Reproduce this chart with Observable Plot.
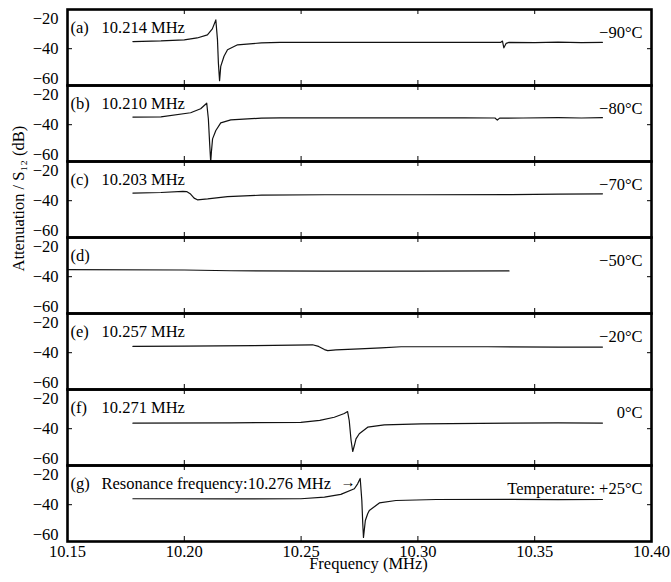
<!DOCTYPE html>
<html><head><meta charset="utf-8">
<script src="https://cdn.jsdelivr.net/npm/d3@7"></script>
<script src="https://cdn.jsdelivr.net/npm/@observablehq/plot@0.6"></script>
<style>body{margin:0;background:#fff;} svg text{font-family:'Liberation Serif','Times New Roman',serif;}</style>
</head><body><div id="chart"></div>
<script>
const panels = ["a","b","c","d","e","f","g"];
const resonanceLabels = ["10.214 MHz","10.210 MHz","10.203 MHz","","10.257 MHz","10.271 MHz","Resonance frequency:10.276 MHz"];
const arrowLabels = ["","","","","","","\u2192"];
const temperatureLabels = ["\u221290\u00b0C","\u221280\u00b0C","\u221270\u00b0C","\u221250\u00b0C","\u221220\u00b0C","0\u00b0C","Temperature: +25\u00b0C"];
const xTicks = [10.15,10.20,10.25,10.30,10.35,10.40];
const xInnerTicks = [10.20,10.25,10.30,10.35];
const yTicks = [-20,-40,-60];
const xLabel = "Frequency (MHz)";
const yLabel = "Attenuation / S\u2081\u2082 (dB)";

const freqA = [10.178,10.19,10.20,10.2055,10.2099,10.2120,10.2135,10.2142,10.2146,10.2151,10.2156,10.2170,10.2185,10.2228,10.233,10.241,10.27,10.30,10.3355,10.3362,10.3368,10.3378,10.339,10.35,10.36,10.37,10.379];
const dbA   = [-35.2,-34.8,-34.1,-32.8,-30.7,-26.7,-20.7,-33.9,-49.8,-61.5,-51.9,-45.1,-40.7,-37.4,-36.1,-35.8,-35.8,-35.8,-35.7,-34.9,-39.4,-36.4,-35.8,-35.9,-35.6,-35.9,-35.7];

const freqB = [10.178,10.19,10.2027,10.207,10.2096,10.2103,10.2109,10.2113,10.2116,10.2121,10.2135,10.2156,10.2199,10.233,10.241,10.28,10.32,10.3330,10.3340,10.3350,10.345,10.36,10.37,10.379];
const dbB   = [-34.9,-34.7,-32.0,-29.3,-25.6,-36.0,-54.0,-65,-58.3,-49.5,-43.9,-38.8,-36.8,-35.6,-35.4,-35.4,-35.4,-35.5,-36.9,-35.6,-35.5,-35.3,-35.5,-35.3];

const freqC = [10.178,10.19,10.1994,10.2010,10.2025,10.2042,10.2056,10.210,10.2185,10.233,10.26,10.30,10.34,10.36,10.379];
const dbC   = [-34.9,-34.5,-33.7,-33.9,-35.3,-38.3,-39.4,-38.8,-37.3,-36.3,-36.0,-36.0,-35.9,-35.6,-35.4];

const freqD = [10.15,10.20,10.22,10.26,10.30,10.339];
const dbD   = [-35.2,-35.5,-36.0,-36.3,-36.2,-36.1];

const freqE = [10.178,10.20,10.23,10.2549,10.2575,10.2600,10.2614,10.2649,10.275,10.2842,10.2928,10.33,10.36,10.379];
const dbE   = [-35.8,-35.6,-35.2,-34.7,-35.8,-37.9,-38.6,-38.1,-37.4,-36.8,-36.0,-36.0,-36.2,-36.2];

const freqF = [10.178,10.22,10.2499,10.258,10.2642,10.2685,10.2699,10.2706,10.2714,10.2721,10.2728,10.2735,10.2749,10.2785,10.2856,10.3014,10.34,10.36,10.379];
const dbF   = [-36.3,-36.1,-35.7,-34.4,-32.3,-29.8,-28.5,-34.5,-47.9,-55.3,-51.3,-46.8,-43.4,-39.0,-37.4,-36.8,-36.2,-36.1,-36.2];

const freqG = [10.178,10.22,10.2499,10.260,10.2670,10.2728,10.2742,10.2753,10.2760,10.2764,10.2767,10.2775,10.2785,10.2792,10.2835,10.2906,10.3078,10.34,10.36,10.379];
const dbG   = [-36.0,-36.1,-36.0,-34.9,-33.1,-29.3,-26.0,-22.4,-37.2,-52.8,-62.0,-50.6,-46.1,-43.9,-38.8,-37.2,-36.5,-36.4,-36.6,-36.5];

const freqs = [freqA,freqB,freqC,freqD,freqE,freqF,freqG];
const dbs = [dbA,dbB,dbC,dbD,dbE,dbF,dbG];

const rows = panels.flatMap((p,i) => freqs[i].map((f,j) => ({panel:p, f, db: dbs[i][j]})));
const labels = panels.map((p,i) => ({panel:p, tag:`(${p})`, res:resonanceLabels[i], arrow:arrowLabels[i], temp:temperatureLabels[i]}));
const FONT = "'Liberation Serif','Times New Roman',serif";

const chart = Plot.plot({
  width: 671, height: 582,
  marginTop: 9, marginBottom: 41, marginLeft: 67, marginRight: 20,
  style: `font-family: ${FONT}; font-size: 16.5px; background: #fff; color: #000;`,
  x: {domain: [10.15, 10.40]},
  y: {domain: [-64.7, -13.7]},
  fy: {domain: panels, padding: 0, axis: null},
  marks: [
    Plot.line(rows, {x: "f", y: "db", fy: "panel", stroke: "#111", strokeWidth: 1.2, clip: true}),
    Plot.axisY({ticks: yTicks, tickSize: 0, tickPadding: 9, label: null, fontSize: 16.5}),
    Plot.axisY({anchor: "left", ticks: [-40], tickSize: -5, text: null, label: null}),
    Plot.axisY({anchor: "right", ticks: [-40], tickSize: -5, text: null, label: null}),
    Plot.tickX(xInnerTicks, {x: d => d, insetBottom: 71, stroke: "#000", strokeWidth: 1}),
    Plot.tickX(xInnerTicks, {x: d => d, insetTop: 71, stroke: "#000", strokeWidth: 1}),
    Plot.axisX({anchor: "bottom", ticks: xTicks, tickSize: 0, tickPadding: 4, tickFormat: ".2f", label: null, fontSize: 16.5}),
    Plot.frame({stroke: "#000", strokeWidth: 2.6}),
    Plot.text(labels, {fy: "panel", text: "tag", frameAnchor: "top-left", dx: 3, dy: 12, textAnchor: "start", fontSize: 16.5}),
    Plot.text(labels, {fy: "panel", text: "res", frameAnchor: "top-left", dx: 34, dy: 12, textAnchor: "start", fontSize: 16.5}),
    Plot.text(labels, {fy: "panel", text: "arrow", frameAnchor: "top-left", dx: 273, dy: 11, textAnchor: "start", fontSize: 15, fontWeight: "bold"}),
    Plot.text(labels, {fy: "panel", text: "temp", frameAnchor: "top-right", dx: -9, dy: 17, textAnchor: "end", fontSize: 16.5}),
    Plot.text([yLabel], {facet: "super", frameAnchor: "left", rotate: -90, dx: -49, dy: -4, text: d => d, fontSize: 16.5}),
    Plot.text([xLabel], {facet: "super", frameAnchor: "bottom", dx: 9, dy: 27, text: d => d, fontSize: 16.5})
  ]
});
document.getElementById("chart").append(chart);
</script>
</body></html>
